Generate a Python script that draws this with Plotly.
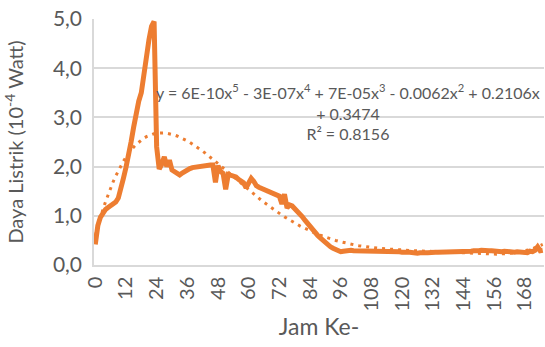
import numpy as np
import plotly.graph_objects as go

hours = list(range(0, 176))
power = [
    0.42, 0.80, 0.97, 1.07, 1.13, 1.17, 1.20, 1.24, 1.28, 1.36,
    1.52, 1.76, 1.98, 2.20, 2.50, 2.80, 3.10, 3.33, 3.50, 3.90,
    4.30, 4.58, 4.85, 4.95, 2.40, 1.95, 2.05, 2.20, 2.00, 2.13,
    1.93, 1.90, 1.85, 1.83, 1.87, 1.91, 1.94, 1.96, 1.98, 1.99,
    2.00, 2.00, 2.01, 2.02, 2.02, 2.03, 2.03, 1.68, 2.02, 1.90,
    1.86, 1.54, 1.84, 1.82, 1.79, 1.79, 1.74, 1.70, 1.67, 1.57,
    1.68, 1.76, 1.70, 1.61, 1.58, 1.56, 1.54, 1.52, 1.50, 1.47,
    1.45, 1.42, 1.40, 1.24, 1.44, 1.16, 1.22, 1.20, 1.15, 1.10,
    1.05, 0.98, 0.91, 0.84, 0.78, 0.72, 0.66, 0.60, 0.55, 0.50,
    0.45, 0.41, 0.37, 0.34, 0.32, 0.29, 0.27,
    0.28, 0.29, 0.29, 0.30, 0.29, 0.29, 0.28, 0.29, 0.29, 0.28, 0.29, 0.28, 0.28, 0.29,
    0.28, 0.28, 0.27, 0.28, 0.28, 0.27, 0.28, 0.27, 0.27, 0.26, 0.27, 0.26, 0.26, 0.25, 0.25,
    0.24, 0.25, 0.24, 0.25, 0.25, 0.26, 0.25, 0.26, 0.26, 0.26, 0.27, 0.26, 0.27, 0.27, 0.27,
    0.27, 0.28, 0.27, 0.28, 0.28, 0.27, 0.28, 0.29, 0.28, 0.29, 0.30, 0.29, 0.30, 0.29, 0.29,
    0.28, 0.29, 0.28, 0.27, 0.28, 0.27, 0.28, 0.27, 0.26, 0.27, 0.26, 0.25, 0.26, 0.25, 0.28,
    0.27, 0.30, 0.37, 0.29, 0.30,
]
x_ticks = list(range(0, 169, 12))
y_ticks = [0, 1, 2, 3, 4, 5]
equation_text = ("y = 6E-10x<sup>5</sup> - 3E-07x<sup>4</sup> + 7E-05x<sup>3</sup> - 0.0062x<sup>2</sup> + 0.2106x"
                 "<br>+ 0.3474<br>R² = 0.8156")

# Polynomial (order 5) trendline as Excel computes it (x = 1..n)
xi = np.arange(1, len(power) + 1, dtype=float)
coef = np.polyfit(xi, np.array(power), 5)
trend = np.polyval(coef, xi)

ORANGE = "#ED7D31"
GREY = "#595959"
FONT = "Lato"

fig = go.Figure()
fig.add_trace(go.Scatter(x=hours, y=power, mode="lines",
                         line=dict(color=ORANGE, width=5), showlegend=False))
fig.add_trace(go.Scatter(x=hours, y=trend, mode="lines",
                         line=dict(color=ORANGE, width=3, dash="3px,5px"), showlegend=False))

fig.add_annotation(x=99, y=3.1, xref="x", yref="y", text=equation_text, showarrow=False,
                   align="center", font=dict(family=FONT, size=16, color=GREY))

fig.update_layout(
    width=545, height=347,
    margin=dict(l=94, r=1, t=19, b=82),
    paper_bgcolor="white", plot_bgcolor="white",
    separators=",.",
    font=dict(family=FONT, color=GREY),
)
fig.update_xaxes(range=[-0.5, 175.5], tickvals=x_ticks, ticktext=[str(v) for v in x_ticks],
                 tickangle=-90, tickfont=dict(family=FONT, size=20, color=GREY),
                 ticklabelstandoff=2, automargin=False,
                 showgrid=False, zeroline=False, showline=True, linecolor="#D9D9D9", linewidth=1.5,
                 title=dict(text="Jam Ke-", font=dict(family=FONT, size=23, color=GREY), standoff=6))
fig.update_yaxes(range=[0, 5], tickvals=y_ticks, tickformat=".1f",
                 tickfont=dict(family=FONT, size=21, color=GREY),
                 ticklabelstandoff=6, automargin=False,
                 showgrid=True, gridcolor="#D9D9D9", gridwidth=1.5, zeroline=False,
                 showline=True, linecolor="#D9D9D9", linewidth=1.5,
                 title=dict(text="Daya Listrik (10<sup>-4</sup> Watt)",
                            font=dict(family=FONT, size=20, color=GREY), standoff=24))

fig.write_html("out.html", config={"displayModeBar": False},
               post_script="document.body.style.margin='0';")
